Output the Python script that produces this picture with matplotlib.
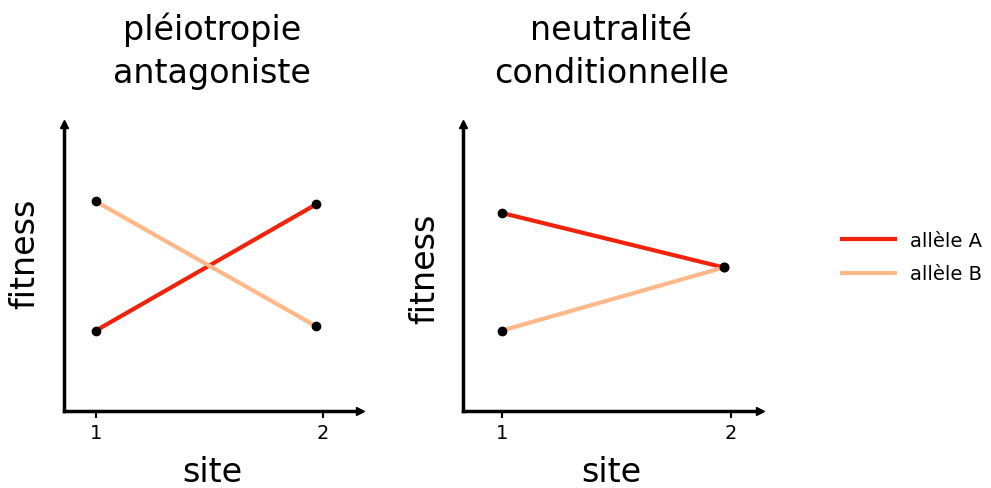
""" Fitness par site : pleiotropie antagoniste vs neutralite conditionnelle """
import matplotlib
matplotlib.use('Agg')
import matplotlib.pyplot as plt

SITES = [1, 2]
SITE_X = [1.0, 1.97]   # position des points (legerement avant la graduation 2)
TITLES = ["pléiotropie\nantagoniste", "neutralité\nconditionnelle"]
ALLELES = ["allèle A", "allèle B"]
# valeurs de fitness (echelle 0-1)
PLEIO_A = [0.28, 0.72]
PLEIO_B = [0.73, 0.295]
NEUTRE_A = [0.69, 0.50]
NEUTRE_B = [0.28, 0.50]

COLORS = ['#f0220a', '#ffb88a']

fig = plt.figure(figsize=(9.91, 4.89), dpi=100)
ax1 = fig.add_axes([0.0646, 0.1575, 0.2987, 0.587])
ax2 = fig.add_axes([0.467, 0.1575, 0.2997, 0.587])


def draw(ax, y_a, y_b, title, xlim, lab_xy):
    """Trace un panneau"""
    ax.plot(SITE_X, y_a, color=COLORS[0], lw=3, label=ALLELES[0], zorder=2)
    ax.plot(SITE_X, y_b, color=COLORS[1], lw=3, label=ALLELES[1], zorder=2)
    ax.plot(SITE_X, y_a, 'o', color='black', ms=6, zorder=3)
    ax.plot(SITE_X, y_b, 'o', color='black', ms=6, zorder=3)
    ax.set_xlim(xlim)
    ax.set_ylim(0, 1)
    ax.set_xticks(SITES)
    ax.set_yticks([])
    ax.tick_params(axis='x', labelsize=14, length=5, width=1.5, pad=4)
    for s in ['top', 'right']:
        ax.spines[s].set_visible(False)
    for s in ['left', 'bottom']:
        ax.spines[s].set_linewidth(2.5)
    # fleches au bout des axes
    ax.plot(1, 0, '>k', ms=6, transform=ax.transAxes, clip_on=False)
    ax.plot(0, 1, '^k', ms=6, transform=ax.transAxes, clip_on=False)
    ax.set_xlabel('site', fontsize=24, labelpad=9)
    ax.set_ylabel('fitness', fontsize=24)
    ax.yaxis.set_label_coords(lab_xy[0], lab_xy[1])
    ax.set_title(title, fontsize=24, pad=30, linespacing=1.4)


draw(ax1, PLEIO_A, PLEIO_B, TITLES[0], (0.86, 2.163), (-0.077, 0.55))
draw(ax2, NEUTRE_A, NEUTRE_B, TITLES[1], (0.83, 2.127), (-0.071, 0.50))

handles, labels = ax2.get_legend_handles_labels()
fig.legend(handles, labels, loc='center left', bbox_to_anchor=(0.832, 0.472),
           frameon=False, fontsize=14, handlelength=2.7, labelspacing=0.75)

fig.savefig('out.png', dpi=100)
